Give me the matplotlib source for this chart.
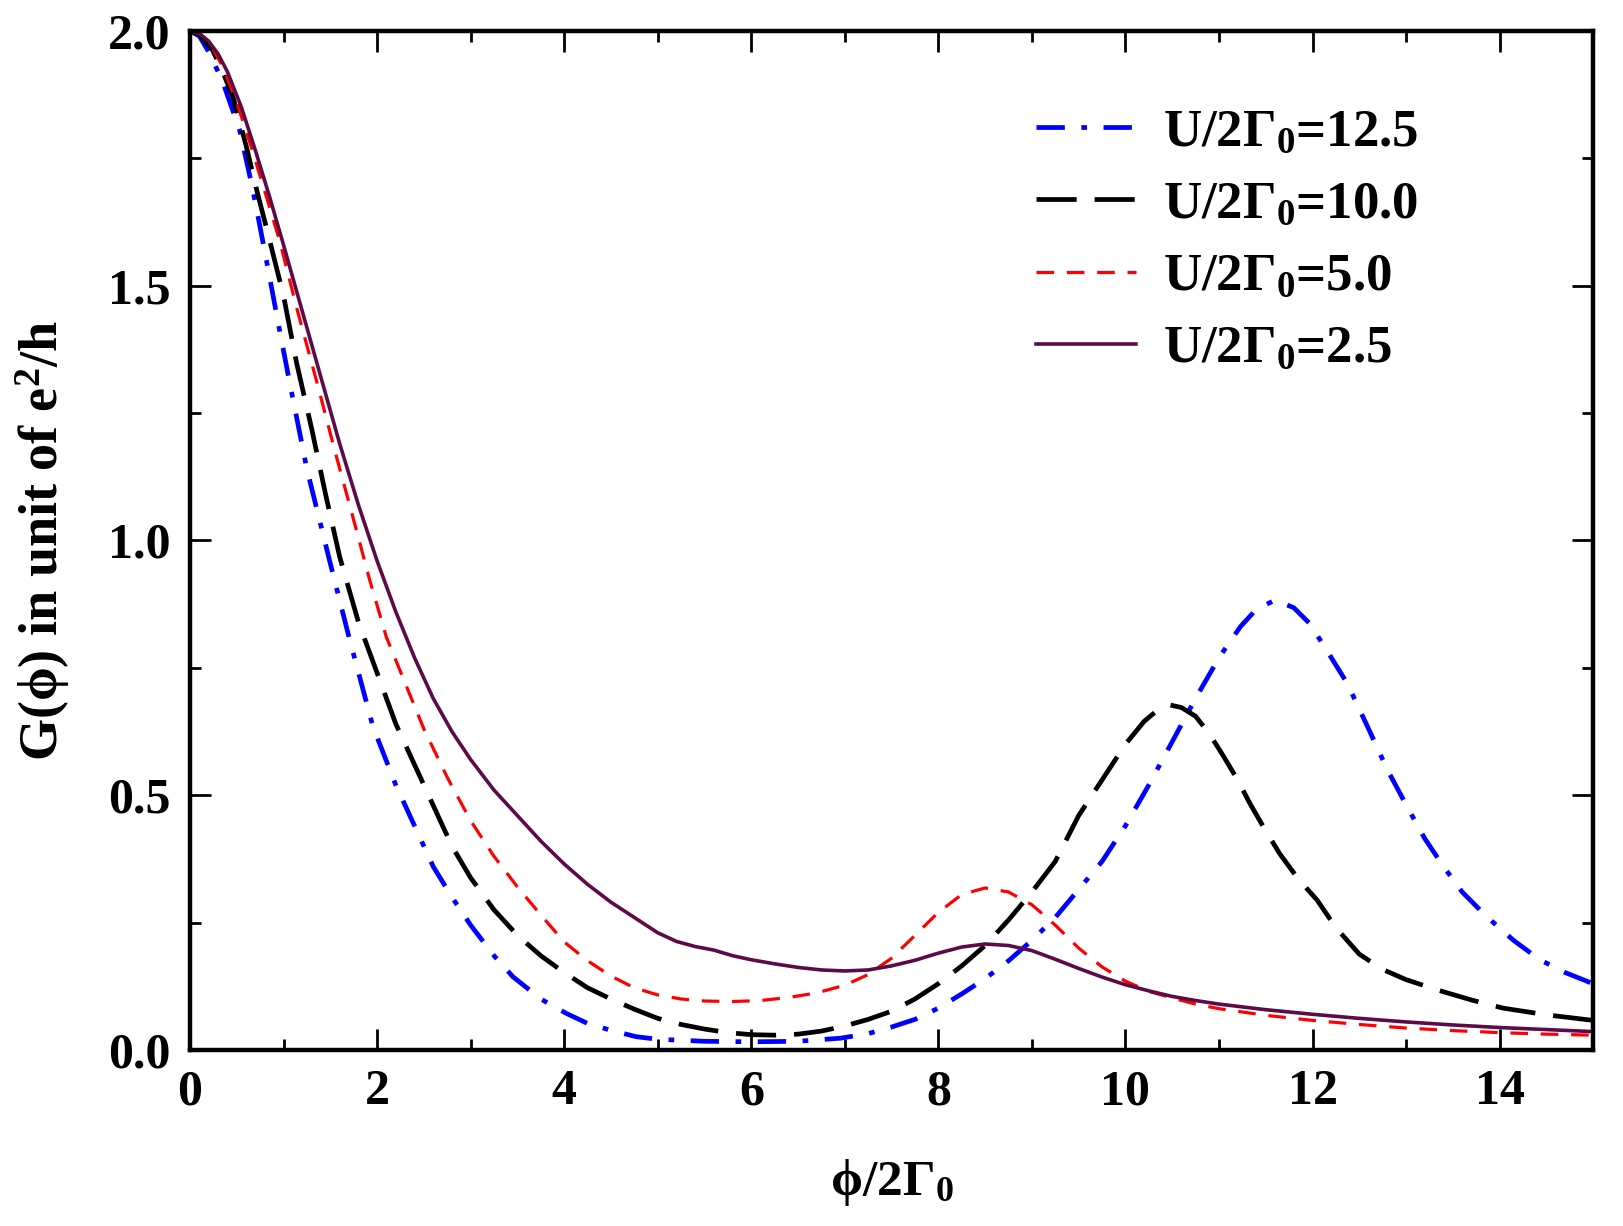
import numpy as np
import matplotlib
matplotlib.use('Agg')
import matplotlib.pyplot as plt
from matplotlib.ticker import MultipleLocator, FormatStrFormatter

##################################################################
# curves: G(phi) in units of e^2/h vs phi/2Gamma_0

x_u125 = [0, 0.1, 0.21, 0.35, 0.53, 0.67, 0.81, 0.95, 1.06, 1.25, 1.49, 1.7, 1.955, 2.2, 2.4,
          2.6, 2.8, 3.0, 3.25, 3.45, 3.75, 4.02, 4.25, 4.49, 4.77, 5.0, 5.5, 6.0, 6.5, 6.95,
          7.25, 7.5, 7.75, 8.0, 8.25, 8.5, 8.75, 9.0, 9.25, 9.5, 9.75, 10.0, 10.25, 10.5,
          10.75, 11.0, 11.23, 11.4, 11.6, 11.8, 11.97, 12.15, 12.37, 12.6, 12.8, 13.01,
          13.2, 13.4, 13.6, 13.86, 14.15, 14.43, 14.7, 15.0]
g_u125 = [2.0, 1.99, 1.956, 1.9, 1.806, 1.69, 1.557, 1.42, 1.315, 1.14, 0.962, 0.81, 0.635,
          0.52, 0.44, 0.36, 0.3, 0.245, 0.185, 0.144, 0.1, 0.072, 0.052, 0.039, 0.026, 0.021,
          0.017, 0.016, 0.017, 0.023, 0.032, 0.045, 0.06, 0.082, 0.11, 0.14, 0.175, 0.215,
          0.26, 0.315, 0.37, 0.44, 0.52, 0.605, 0.69, 0.77, 0.831, 0.865, 0.883, 0.868,
          0.837, 0.785, 0.72, 0.63, 0.55, 0.478, 0.415, 0.36, 0.31, 0.262, 0.215, 0.177,
          0.152, 0.13]

x_u100 = [0, 0.1, 0.24, 0.35, 0.46, 0.6, 0.71, 0.85, 1.0, 1.14, 1.3, 1.45, 1.6, 1.8, 2.0,
          2.2, 2.4, 2.6, 2.8, 3.0, 3.25, 3.5, 3.75, 4.0, 4.25, 4.5, 4.75, 5.0, 5.25, 5.5,
          5.75, 6.0, 6.25, 6.5, 6.75, 7.0, 7.25, 7.5, 7.75, 8.0, 8.25, 8.5, 8.75, 9.0, 9.25,
          9.5, 9.75, 10.0, 10.2, 10.35, 10.48, 10.6, 10.75, 10.9, 11.05, 11.2, 11.33, 11.5,
          11.65, 11.85, 12.05, 12.25, 12.5, 12.75, 13.0, 13.33, 13.7, 14.04, 14.5, 15.0]
g_u100 = [2.0, 1.993, 1.963, 1.92, 1.87, 1.775, 1.69, 1.59, 1.48, 1.348, 1.22, 1.09, 0.968,
          0.84, 0.74, 0.64, 0.56, 0.48, 0.4, 0.338, 0.275, 0.225, 0.185, 0.152, 0.122, 0.1,
          0.08, 0.062, 0.05, 0.041, 0.034, 0.03, 0.029, 0.031, 0.037, 0.047, 0.06, 0.076,
          0.1, 0.13, 0.165, 0.205, 0.255, 0.31, 0.37, 0.46, 0.53, 0.6, 0.645, 0.668, 0.677,
          0.672, 0.655, 0.62, 0.576, 0.53, 0.484, 0.43, 0.385, 0.335, 0.294, 0.24, 0.188,
          0.158, 0.138, 0.118, 0.098, 0.082, 0.069, 0.058]

x_u50 = [0, 0.1, 0.2, 0.35, 0.5, 0.65, 0.8, 0.96, 1.15, 1.35, 1.55, 1.75, 1.92, 2.1, 2.3,
         2.5, 2.75, 3.0, 3.25, 3.5, 3.75, 4.0, 4.25, 4.5, 4.75, 5.0, 5.25, 5.5, 5.8, 6.1,
         6.4, 6.7, 7.0, 7.25, 7.5, 7.75, 8.0, 8.25, 8.5, 8.75, 9.0, 9.25, 9.5, 9.75, 10.0,
         10.25, 10.5, 10.75, 11.0, 11.5, 12.0, 12.5, 13.0, 13.5, 14.0, 14.5, 15.0]
g_u50 = [2.0, 1.995, 1.98, 1.93, 1.86, 1.775, 1.685, 1.587, 1.45, 1.315, 1.175, 1.04, 0.923,
         0.81, 0.72, 0.63, 0.535, 0.45, 0.38, 0.32, 0.265, 0.212, 0.175, 0.145, 0.122,
         0.108, 0.1, 0.096, 0.095, 0.097, 0.103, 0.112, 0.127, 0.148, 0.18, 0.225, 0.27,
         0.305, 0.318, 0.31, 0.285, 0.245, 0.2, 0.163, 0.135, 0.115, 0.102, 0.09, 0.081,
         0.068, 0.058, 0.05, 0.043, 0.038, 0.034, 0.031, 0.029]

x_u25 = [0, 0.1, 0.2, 0.3, 0.4, 0.55, 0.7, 0.85, 1.0, 1.2, 1.4, 1.6, 1.8, 2.0, 2.2, 2.4, 2.6,
         2.8, 3.0, 3.25, 3.5, 3.75, 4.0, 4.25, 4.5, 4.75, 5.0, 5.2, 5.4, 5.6, 5.8, 6.0, 6.25,
         6.5, 6.75, 7.0, 7.25, 7.5, 7.75, 8.0, 8.25, 8.5, 8.75, 9.0, 9.25, 9.5, 9.75, 10.0,
         10.25, 10.5, 10.75, 11.0, 11.5, 12.0, 12.5, 13.0, 13.5, 14.0, 14.5, 15.0]
g_u25 = [2.0, 1.995, 1.98, 1.955, 1.92, 1.85, 1.765, 1.675, 1.58, 1.45, 1.32, 1.19, 1.07,
         0.96, 0.86, 0.77, 0.69, 0.625, 0.57, 0.51, 0.46, 0.41, 0.365, 0.325, 0.29, 0.26,
         0.23, 0.213, 0.203, 0.196, 0.185, 0.177, 0.169, 0.162, 0.157, 0.155, 0.157, 0.165,
         0.176, 0.19, 0.202, 0.208, 0.205, 0.195, 0.178, 0.16, 0.143, 0.128, 0.116, 0.105,
         0.097, 0.09, 0.079, 0.07, 0.062, 0.055, 0.049, 0.044, 0.04, 0.036]

labels = [r'U/2$\Gamma_0$=12.5', r'U/2$\Gamma_0$=10.0', r'U/2$\Gamma_0$=5.0', r'U/2$\Gamma_0$=2.5']

##################################################################

plt.rcParams['font.family'] = ['Liberation Serif', 'DejaVu Serif']
plt.rcParams['font.weight'] = 'bold'
plt.rcParams['axes.labelweight'] = 'bold'
plt.rcParams['mathtext.fontset'] = 'custom'
plt.rcParams['mathtext.rm'] = 'Liberation Serif:bold'
plt.rcParams['mathtext.it'] = 'Liberation Serif:bold'
plt.rcParams['mathtext.bf'] = 'Liberation Serif:bold'
plt.rcParams['mathtext.default'] = 'rm'

fig = plt.figure(figsize=(16.24, 12.26), dpi=100)
ax = fig.add_axes([0.117, 0.1436, 0.864, 0.8311])

ax.plot(x_u125, g_u125, color='blue', lw=3.4, dashes=(6.0, 3.5, 1.2, 3.5), label=labels[0])
ax.plot(x_u100, g_u100, color='black', lw=3.4, dashes=(8.5, 3.8), label=labels[1])
ax.plot(x_u50, g_u50, color='red', lw=2.3, dashes=(5.5, 4.0), label=labels[2])
ax.plot(x_u25, g_u25, color='#5c0a48', lw=2.6, label=labels[3])

ax.set_xlim(0, 15)
ax.set_ylim(0, 2)
ax.xaxis.set_major_locator(MultipleLocator(2))
ax.xaxis.set_minor_locator(MultipleLocator(1))
ax.yaxis.set_major_locator(MultipleLocator(0.5))
ax.yaxis.set_minor_locator(MultipleLocator(0.25))
ax.yaxis.set_major_formatter(FormatStrFormatter('%.1f'))

ax.tick_params(which='both', direction='in', top=True, right=True, width=2.0)
ax.tick_params(which='major', length=15, labelsize=36, pad=14)
ax.tick_params(which='minor', length=8)
for s in ax.spines.values():
    s.set_linewidth(3.2)

ax.set_xlabel('ϕ/2$\\Gamma_0$', fontsize=37, labelpad=30)
ax.set_ylabel('G(ϕ) in unit of e$^2$/h', fontsize=39)
ax.yaxis.set_label_coords(-0.084, 0.5)

ax.legend(loc='upper left', bbox_to_anchor=(0.603, 0.924), frameon=False, fontsize=38,
          handlelength=1.9, handletextpad=0.5, labelspacing=0.46, borderpad=0,
          borderaxespad=0)

plt.savefig('out.png', dpi=100, facecolor='white')
